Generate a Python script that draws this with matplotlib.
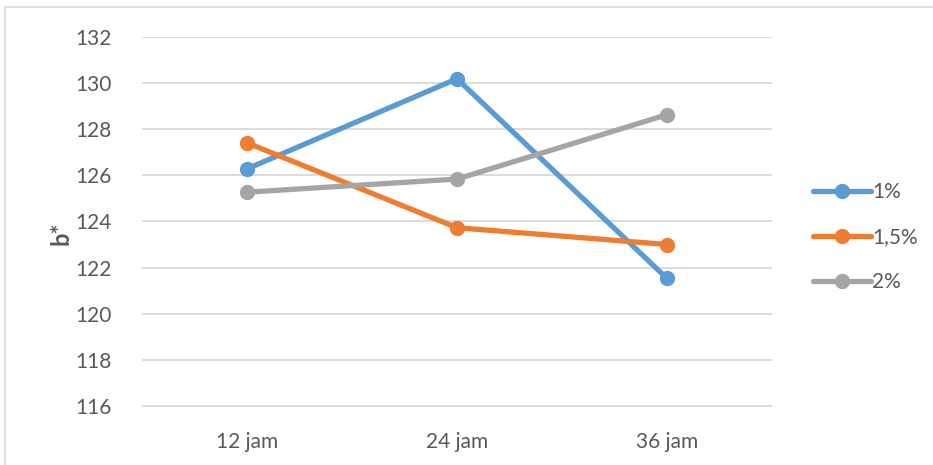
import matplotlib.pyplot as plt
from matplotlib.patches import Rectangle

# Data
categories = ['12 jam', '24 jam', '36 jam']
series_names = ['1%', '1,5%', '2%']
b_1 = [126.28, 130.19, 121.53]
b_15 = [127.41, 123.73, 123.0]
b_2 = [125.27, 125.84, 128.63]
yticks = [116, 118, 120, 122, 124, 126, 128, 130, 132]

colors = ['#5B9BD5', '#ED7D31', '#A5A5A5']
textcol = '#595959'

plt.rcParams['font.family'] = ['Lato', 'DejaVu Sans']

fig = plt.figure(figsize=(9.33, 4.65), dpi=100)
# chart-area border like an Excel chart
fig.patches.append(Rectangle((5/933, -0.05), 1.0, 1 - 7/465 + 0.05,
                             transform=fig.transFigure, fill=False,
                             edgecolor='#D9D9D9', linewidth=1.2))

ax = fig.add_axes([142/933, 1 - 429/465, 630/933, (429 - 37)/465])
x = list(range(len(categories)))
for vals, name, c in zip([b_1, b_15, b_2], series_names, colors):
    ax.plot(x, vals, color=c, lw=3.8, marker='o', ms=10, label=name,
            solid_capstyle='round', zorder=3)

ax.set_xlim(-0.5, 2.5)
ax.set_ylim(115, 132)
ax.set_yticks(yticks)
ax.set_xticks(x)
ax.set_xticklabels(categories)
ax.grid(axis='y', color='#D9D9D9', lw=1.3)
ax.set_axisbelow(True)
for s in ax.spines.values():
    s.set_visible(False)
ax.tick_params(length=0, labelsize=15, colors=textcol)
ax.tick_params(axis='y', pad=22)
ax.tick_params(axis='x', pad=2)
ax.set_ylabel('b*', fontsize=17, fontweight='bold', color=textcol, labelpad=2)

fig.legend(loc='center left', bbox_to_anchor=(794/933, 1 - 237/465),
           frameon=False, fontsize=15, handlelength=2.8, labelspacing=1.2,
           handletextpad=0.05, labelcolor=textcol)

fig.savefig('out.png', dpi=100)
